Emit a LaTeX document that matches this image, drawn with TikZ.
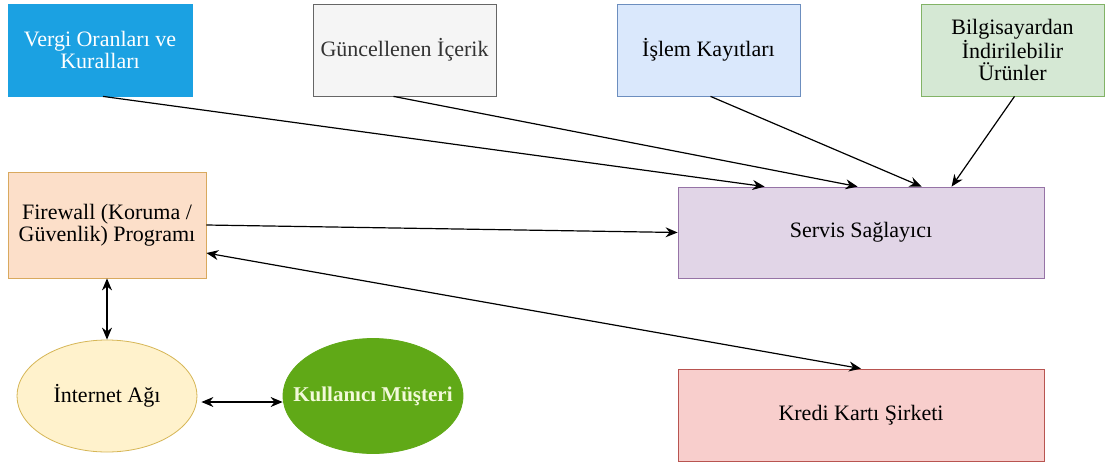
\documentclass[tikz,border=0pt]{standalone}
\usepackage{fontspec}
\setmainfont{Liberation Serif}
\usetikzlibrary{arrows.meta,calc,shapes.geometric}
\definecolor{vblue}{HTML}{1BA1E2}
\definecolor{gfill}{HTML}{F5F5F5}
\definecolor{gline}{HTML}{666666}
\definecolor{bfill}{HTML}{DAE8FC}
\definecolor{bline}{HTML}{6C8EBF}
\definecolor{grfill}{HTML}{D5E8D4}
\definecolor{grline}{HTML}{82B366}
\definecolor{ofill}{HTML}{FCDFC9}
\definecolor{oline}{HTML}{D9A95E}
\definecolor{yfill}{HTML}{FFF2CC}
\definecolor{yline}{HTML}{D6B656}
\definecolor{kgreen}{HTML}{60A917}
\definecolor{ktext}{HTML}{F2F9D9}
\definecolor{pfill}{HTML}{E1D5E7}
\definecolor{pline}{HTML}{9673A6}
\definecolor{rfill}{HTML}{F8CECC}
\definecolor{rline}{HTML}{B85450}
\tikzset{
  box/.style={rectangle, draw, line width=0.8pt, inner sep=0pt, align=center,
    font=\fontsize{22}{22.5}\selectfont},
  oval/.style={ellipse, draw, line width=0.8pt, inner sep=0pt},
  lbl/.style={align=center, inner sep=0pt, font=\fontsize{22}{22.5}\selectfont},
  conn/.style={draw=black, line width=1.2pt, -{Stealth[length=12pt,width=10pt]}},
  biconn/.style={draw=black, line width=1.2pt, {Stealth[length=12pt,width=10pt]}-{Stealth[length=12pt,width=10pt]}}
}
\begin{document}
\begin{tikzpicture}[x=1pt,y=-1pt]
\useasboundingbox (0,0) rectangle (1109,466);
\fill[white] (0,0) rectangle (1109,466);
% top row
\node[box, fill=vblue, draw=vblue, text=white, minimum width=184pt, minimum height=92pt] (vergi) at (100,50) {Vergi Oranları ve\\Kuralları};
\node[box, fill=gfill, draw=gline, text=black!80, minimum width=183pt, minimum height=92pt] (gunc) at (404.5,50) {Güncellenen İçerik};
\node[box, fill=bfill, draw=bline, minimum width=183pt, minimum height=92pt] (islem) at (708.5,50) {İşlem Kayıtları};
\node[box, fill=grfill, draw=grline, minimum width=183pt, minimum height=92pt] (bilg) at (1012.5,50) {Bilgisayardan\\İndirilebilir\\Ürünler};
% middle
\node[box, fill=ofill, draw=oline, minimum width=198pt, minimum height=106pt] (fw) at (107,225) {Firewall (Koruma /\\Güvenlik) Programı};
\node[box, fill=pfill, draw=pline, minimum width=366pt, minimum height=91pt] (servis) at (861,232.5) {Servis Sağlayıcı};
% bottom
\node[oval, fill=yfill, draw=yline, minimum width=180pt, minimum height=112pt] (net) at (107,396) {};
\node[lbl] (netl) at (net.center) {İnternet Ağı};
\node[oval, fill=kgreen, draw=kgreen, minimum width=180pt, minimum height=115pt] (kul) at (373,396) {};
\node[lbl, text=ktext, font=\fontsize{21}{22}\selectfont\bfseries] (kull) at (kul.center) {Kullanıcı Müşteri};
\node[box, fill=rfill, draw=rline, minimum width=366pt, minimum height=92pt] (kredi) at (861,415) {Kredi Kartı Şirketi};
% connectors
\draw[conn] ($(vergi.south)+(3,0)$) -- ($(servis.north west)+(87,0)$);
\draw[conn] ($(gunc.south)+(-11,0)$) -- ($(servis.north west)+(180,0)$);
\draw[conn] ($(islem.south)+(2,0)$) -- ($(servis.north west)+(244,0)$);
\draw[conn] ($(bilg.south)+(2,0)$) -- ($(servis.north west)+(274,0)$);
\draw[conn] (fw.east) -- (servis.west);
\draw[biconn] ($(fw.east)+(0,28)$) -- (kredi.north);
\draw[biconn] (fw.south) -- (net.north);
\draw[biconn] ($(net.east)+(4,6)$) -- ($(kul.west)+(0,6)$);
\end{tikzpicture}
\end{document}
